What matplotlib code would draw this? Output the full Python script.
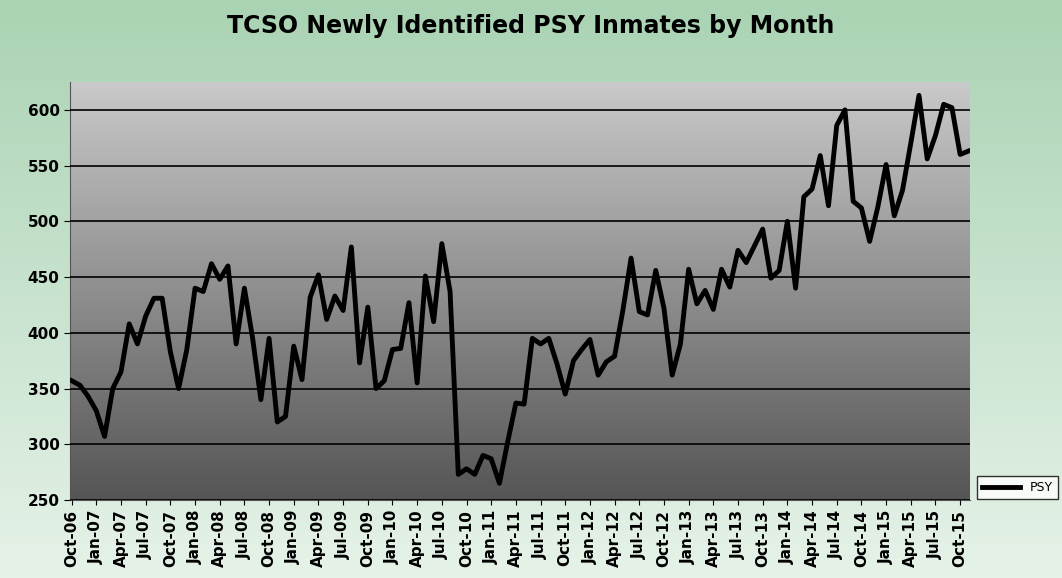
import numpy as np
import pandas as pd
import matplotlib
matplotlib.use('Agg')
import matplotlib.pyplot as plt

# monthly counts, Oct-06 .. Nov-15
psy = [357, 353, 343,
       330, 307, 350, 365, 408, 390, 415, 431, 431, 383, 350, 385,
       440, 437, 462, 448, 460, 390, 440, 395, 340, 395, 320, 325,
       388, 358, 432, 452, 412, 433, 420, 477, 373, 423, 350, 357,
       385, 386, 427, 355, 451, 410, 480, 437, 273, 278, 273, 290,
       287, 265, 302, 337, 336, 395, 390, 395, 372, 345, 375, 385,
       394, 362, 374, 379, 420, 467, 419, 416, 456, 422, 362, 390,
       457, 426, 438, 421, 457, 441, 474, 463, 478, 493, 449, 456,
       500, 440, 522, 529, 559, 514, 586, 600, 518, 512, 482, 513,
       551, 505, 528, 570, 613, 556, 577, 605, 602, 560, 563]
months = pd.date_range('2006-10-01', periods=len(psy), freq='MS')
labels = [m.strftime('%b-%y') for m in months]

fig = plt.figure(figsize=(10.62, 5.78), dpi=100)

# green background gradient
bg = fig.add_axes([0, 0, 1, 1])
bg.imshow(np.linspace(0, 1, 256).reshape(-1, 1), aspect='auto',
          cmap=matplotlib.colors.LinearSegmentedColormap.from_list('g', ['#a9d3b3', '#e6f2e8']),
          extent=[0, 1, 0, 1])
bg.axis('off')

fig.text(0.5, 0.955, 'TCSO Newly Identified PSY Inmates by Month', ha='center', va='center',
         fontsize=17, fontweight='bold')

ax = fig.add_axes([70/1062, 78/578, 900/1062, 418/578])
x = np.arange(len(psy))
ax.imshow(np.linspace(0, 1, 256).reshape(-1, 1), aspect='auto',
          cmap=matplotlib.colors.LinearSegmentedColormap.from_list('gr', ['#c9c9c9', '#555555']),
          extent=[-0.2, len(psy) - 0.8, 250, 625], zorder=0)
ax.plot(x, psy, color='black', lw=3.5, label='PSY', zorder=3)
ax.set_xlim(-0.2, len(psy) - 0.8)
ax.set_ylim(250, 625)
ax.set_yticks(range(250, 601, 50))
ax.grid(axis='y', color='black', lw=1.2)
ax.set_axisbelow(False)
ax.set_xticks(x[::3])
ax.set_xticklabels(labels[::3], rotation=90, fontsize=11, fontweight='bold')
ax.tick_params(axis='y', labelsize=11, length=4)
for lab in ax.get_yticklabels():
    lab.set_fontweight('bold')
for s in ['top', 'right']:
    ax.spines[s].set_visible(False)
ax.spines['left'].set_color('#555555')
ax.spines['bottom'].set_color('#555555')

ax.legend(loc='center left', bbox_to_anchor=(1.008, 0.03), frameon=True, fancybox=False,
          edgecolor='black', fontsize=9, handlelength=3, borderaxespad=0)

fig.savefig('out.png', dpi=100)
